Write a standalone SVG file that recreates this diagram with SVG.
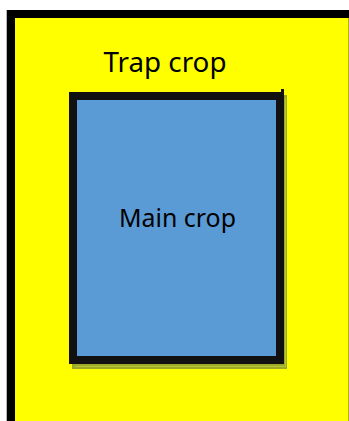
<svg xmlns="http://www.w3.org/2000/svg" width="349" height="421" viewBox="0 0 349 421">
<style>
.lbl{font-family:"Noto Sans","Open Sans","DejaVu Sans",sans-serif;fill:#000;text-anchor:middle}
</style>
<rect width="349" height="421" fill="#fff"/>
<g id="trap-crop">
<rect x="11" y="14" width="341.7" height="420" fill="#ffff00" stroke="#000" stroke-width="8"/>
<line x1="6.5" y1="10" x2="6.5" y2="421" stroke="#888" stroke-width="1" opacity="0.6"/>
<text class="lbl" x="165" y="72" font-size="27" textLength="123" lengthAdjust="spacingAndGlyphs">Trap crop</text>
</g>
<g id="main-crop">
<rect x="72" y="95" width="215" height="274" fill="#9caa2a"/>
<polyline points="75,366.5 285.5,366.5 285.5,98" fill="none" stroke="#bcc530" stroke-width="1"/>
<rect x="73" y="96" width="207" height="264" fill="#5b9bd5" stroke="#111" stroke-width="8"/>
<rect x="281" y="89" width="3" height="4" fill="#111"/>
<text class="lbl" x="177.5" y="227" font-size="25" textLength="117" lengthAdjust="spacingAndGlyphs">Main crop</text>
</g>
<g id="connectors"/>
</svg>
